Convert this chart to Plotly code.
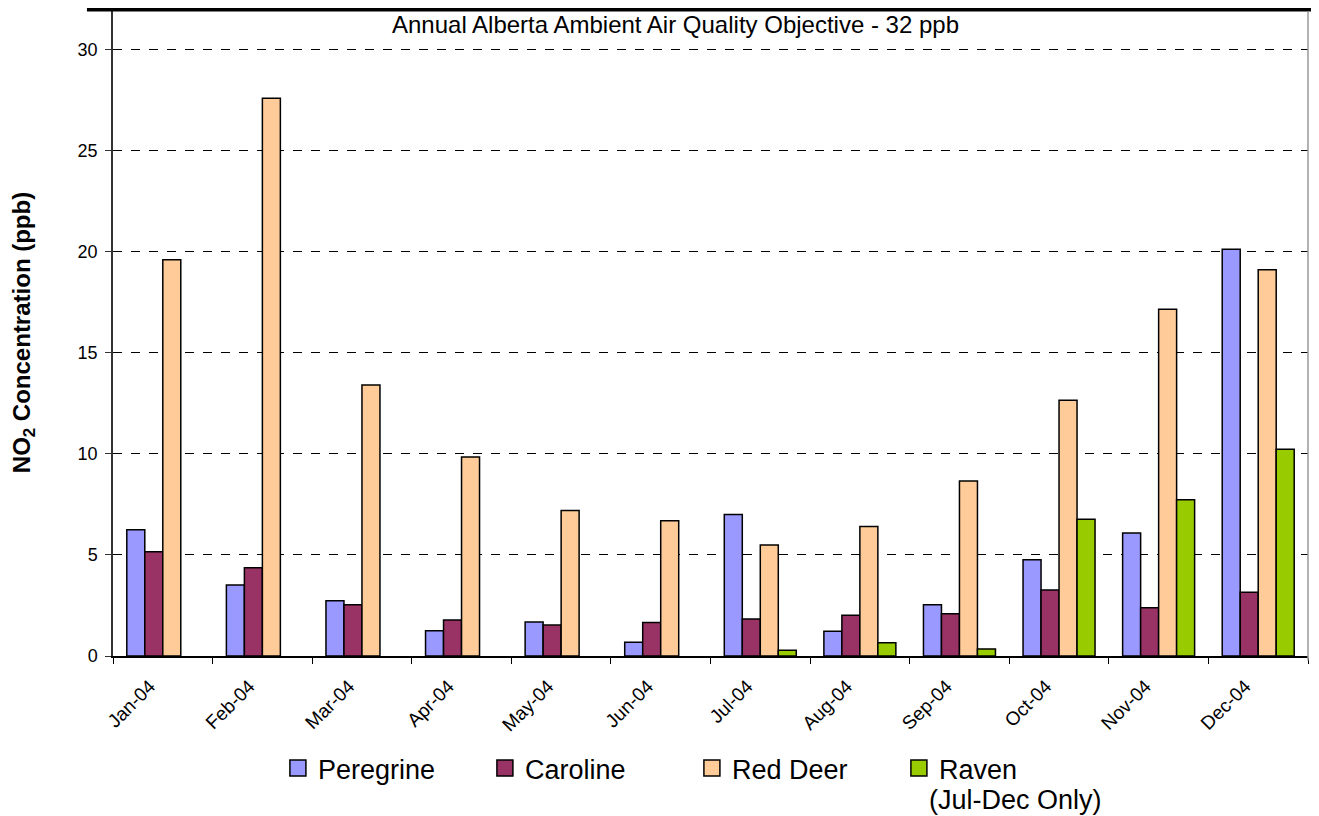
import plotly.graph_objects as go

months = ["Jan-04", "Feb-04", "Mar-04", "Apr-04", "May-04", "Jun-04",
          "Jul-04", "Aug-04", "Sep-04", "Oct-04", "Nov-04", "Dec-04"]
peregrine = [6.24, 3.51, 2.73, 1.25, 1.68, 0.68, 7.00, 1.22, 2.54, 4.76, 6.08, 20.12]
caroline = [5.16, 4.37, 2.54, 1.78, 1.53, 1.66, 1.83, 2.01, 2.09, 3.26, 2.39, 3.15]
red_deer = [19.60, 27.58, 13.40, 9.84, 7.20, 6.69, 5.49, 6.41, 8.65, 12.65, 17.15, 19.10]
raven = [None, None, None, None, None, None, 0.28, 0.66, 0.35, 6.76, 7.73, 10.22]
objective = 32

series = [
    ("Peregrine", peregrine, "#9999FF"),
    ("Caroline", caroline, "#993366"),
    ("Red Deer", red_deer, "#FFCC99"),
    ("Raven", raven, "#99CC00"),
]

FONT = "Arial, Liberation Sans, sans-serif"

fig = go.Figure()
for name, vals, col in series:
    fig.add_trace(go.Bar(
        x=months, y=vals, name=name, showlegend=False,
        marker=dict(color=col, line=dict(color="black", width=1.5)),
    ))
# legend entries with larger square swatches
for name, vals, col in series:
    fig.add_trace(go.Scatter(
        x=[None], y=[None], name=name, mode="markers",
        marker=dict(symbol="square", size=19, color=col,
                    line=dict(color="black", width=1.5)),
    ))

# objective line: the y axis tops out at the objective value, so paper y=1 is 32 ppb
fig.add_shape(type="line", xref="paper", yref="paper", x0=-0.0218, x1=1.0075,
              y0=1, y1=1, line=dict(color="black", width=5))
fig.add_shape(type="line", xref="paper", yref="paper", x0=1, x1=1,
              y0=-0.007, y1=0.996, line=dict(color="#999999", width=1.5))
fig.add_annotation(text="Annual Alberta Ambient Air Quality Objective - 32 ppb",
                   xref="paper", yref="paper", x=0.4707, y=0.9768, yanchor="middle",
                   showarrow=False,
                   font=dict(size=24, color="black", family=FONT))
fig.add_annotation(text="(Jul-Dec Only)",
                   xref="paper", yref="paper", x=(927 - 113) / 1195, xanchor="left",
                   y=-(800 - 656) / 647, yanchor="middle", showarrow=False,
                   font=dict(size=27, color="black", family=FONT))

# the page places the figure 8px from the top-left corner of the window
fig.update_layout(
    width=1311, height=808,
    margin=dict(l=105, r=11, t=1, b=160),
    plot_bgcolor="white", paper_bgcolor="white",
    font=dict(family=FONT, color="black"),
    barmode="group", bargap=0.277, bargroupgap=0,
    showlegend=True,
    legend=dict(orientation="h", x=0.138, xanchor="left", y=-0.136, yanchor="top",
                font=dict(size=27), entrywidth=162, entrywidthmode="pixels",
                itemsizing="trace", traceorder="normal", bgcolor="rgba(0,0,0,0)"),
    xaxis=dict(type="category", tickangle=-45, tickfont=dict(size=19),
               ticks="outside", ticklen=6, tickson="boundaries", automargin=False,
               ticklabelshift=-13, ticklabelstandoff=10,
               tickcolor="black", showline=True, linecolor="black", linewidth=1.5,
               showgrid=False, range=[-0.5, 11.5]),
    yaxis=dict(range=[0, objective], tickvals=[0, 5, 10, 15, 20, 25, 30], automargin=False,
               tickfont=dict(size=18), ticks="outside", ticklen=6, ticklabelstandoff=4,
               tickcolor="#333333", showline=True, linecolor="#333333", linewidth=1.5,
               showgrid=True, gridcolor="black", griddash="dash", gridwidth=1,
               zeroline=False,
               title=dict(text="<b>NO<sub>2</sub> Concentration (ppb)</b>",
                          font=dict(size=24), standoff=45)),
)

fig.write_html("out.html")
